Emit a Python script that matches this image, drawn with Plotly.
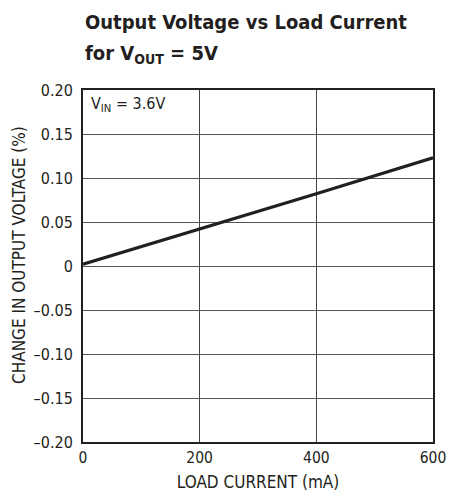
import plotly.graph_objects as go

load_current_ma = [0, 200, 400, 600]
change_pct = [0.002, 0.042, 0.082, 0.123]

x_ticks = [0, 200, 400, 600]
x_tick_labels = ["0", "200", "400", "600"]
y_ticks = [-0.20, -0.15, -0.10, -0.05, 0, 0.05, 0.10, 0.15, 0.20]
y_tick_labels = ["\u20130.20", "\u20130.15", "\u20130.10", "\u20130.05", "0", "0.05", "0.10", "0.15", "0.20"]

title_line1 = "Output Voltage vs Load Current"
title_line2 = "for V<sub>OUT</sub> = 5V"
vin_note = "V<sub>IN</sub> = 3.6V"
x_title = "LOAD CURRENT (mA)"
y_title = "CHANGE IN OUTPUT VOLTAGE (%)"

FONT = "DejaVu Sans Condensed, Liberation Sans Narrow, sans-serif"
INK = "#231f20"

W, H = 449, 497
L, T = 83, 90
R = W - 433
B = H - 442
PH = H - T - B
PW = W - L - R

def ypaper(px):
    return 1 + (T - px) / PH

def xpaper(px):
    return (px - L) / PW

fig = go.Figure()
fig.add_trace(go.Scatter(x=load_current_ma, y=change_pct, mode="lines",
                         line=dict(color=INK, width=3.2), showlegend=False, hoverinfo="skip"))

fig.update_layout(
    width=W, height=H,
    margin=dict(l=L, r=R, t=T, b=B),
    paper_bgcolor="white", plot_bgcolor="white",
    font=dict(family=FONT, color=INK, size=16),
    xaxis=dict(range=[0, 600], tickvals=x_ticks, ticktext=x_tick_labels,
               showgrid=True, gridcolor="#444", gridwidth=1,
               showline=True, linecolor=INK, linewidth=2, mirror=True,
               ticks="", zeroline=False, fixedrange=True, automargin=False,
               tickfont=dict(size=15.5),
               title=dict(text=x_title, standoff=11, font=dict(size=17))),
    yaxis=dict(range=[-0.20, 0.20], tickvals=y_ticks, ticktext=y_tick_labels,
               showgrid=True, gridcolor="#555", gridwidth=1,
               showline=True, linecolor=INK, linewidth=2, mirror=True,
               ticks="", zeroline=False, fixedrange=True, automargin=False,
               tickfont=dict(size=16), ticklabelstandoff=5),
    annotations=[
        dict(text="<b>" + title_line1 + "</b>", xref="paper", yref="paper",
             x=0, y=ypaper(8), xanchor="left", yanchor="top", showarrow=False,
             font=dict(size=20, color=INK)),
        dict(text="<b>" + title_line2 + "</b>", xref="paper", yref="paper",
             x=0, y=ypaper(39), xanchor="left", yanchor="top", showarrow=False,
             font=dict(size=20, color=INK)),
        dict(text=vin_note, xref="paper", yref="paper",
             x=xpaper(89), y=ypaper(92), xanchor="left", yanchor="top",
             showarrow=False, font=dict(size=16, color=INK)),
        dict(text=y_title, xref="paper", yref="paper", textangle=-90,
             x=xpaper(19), y=ypaper(255), xanchor="center", yanchor="middle",
             showarrow=False, font=dict(size=17, color=INK)),
    ],
)

fig.write_html("out.html",
               config={"displayModeBar": False, "staticPlot": True},
               post_script="document.body.style.margin='0';document.body.style.overflow='hidden';")
